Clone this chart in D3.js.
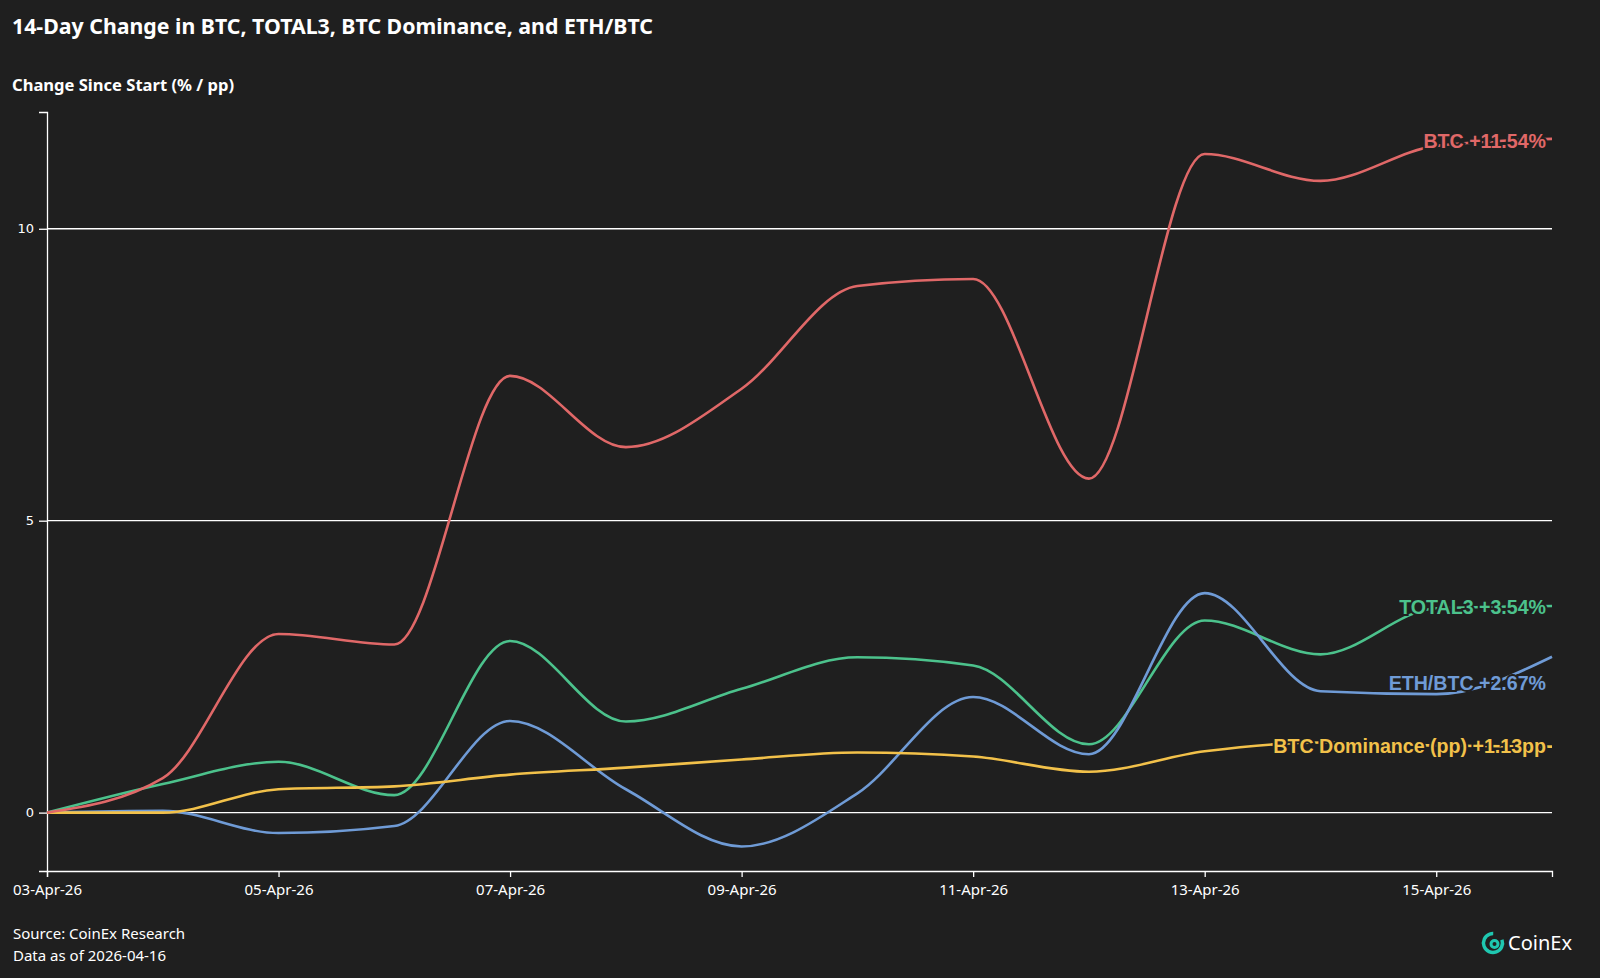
<!DOCTYPE html>
<html><head><meta charset="utf-8">
<script src="https://cdn.jsdelivr.net/npm/d3@7"></script>
<style>
html,body{margin:0;padding:0;background:#1f1f1f;}
svg{display:block;}
</style></head>
<body>
<svg id="chart" width="1600" height="978"></svg>
<script>
const dates = ["2026-04-03","2026-04-04","2026-04-05","2026-04-06","2026-04-07","2026-04-08","2026-04-09","2026-04-10","2026-04-11","2026-04-12","2026-04-13","2026-04-14","2026-04-15","2026-04-16"];
const btc = [0, 0.59, 3.06, 2.88, 7.48, 6.26, 7.26, 9.02, 9.14, 5.72, 11.28, 10.82, 11.42, 11.54];
const total3 = [0, 0.49, 0.87, 0.30, 2.94, 1.56, 2.12, 2.66, 2.52, 1.17, 3.29, 2.71, 3.50, 3.54];
const ethbtc = [0, 0.03, -0.35, -0.23, 1.57, 0.40, -0.58, 0.33, 1.98, 1.00, 3.76, 2.08, 2.03, 2.67];
const btcDom = [0, 0.0, 0.40, 0.45, 0.65, 0.77, 0.91, 1.03, 0.96, 0.70, 1.05, 1.20, 1.15, 1.13];
const seriesNames = ["BTC", "TOTAL3", "ETH/BTC", "BTC Dominance (pp)"];
const seriesLabels = ["BTC +11.54%", "TOTAL3 +3.54%", "ETH/BTC +2.67%", "BTC Dominance (pp) +1.13pp"];
const seriesColors = ["#e06868", "#4cc28c", "#6f9bd6", "#f2c14a"];
const yTicks = [0, 5, 10];
const xTickDates = ["2026-04-03","2026-04-05","2026-04-07","2026-04-09","2026-04-11","2026-04-13","2026-04-15"];
const titleText = "14-Day Change in BTC, TOTAL3, BTC Dominance, and ETH/BTC";
const subtitleText = "Change Since Start (% / pp)";
const sourceText = "Source: CoinEx Research";
const asOfText = "Data as of 2026-04-16";

const parse = d3.timeParse("%Y-%m-%d");
const allValues = [btc, total3, ethbtc, btcDom];
const series = seriesNames.map((n, i) => ({
  name: n, label: seriesLabels[i], color: seriesColors[i],
  values: dates.map((d, j) => ({date: parse(d), v: allValues[i][j]}))
}));

const svg = d3.select("#chart");
const W = 1600, H = 978;
svg.append("rect").attr("width", W).attr("height", H).attr("fill", "#1f1f1f");

const m = {left: 47, right: 48, top: 112, bottom: 107};
const x = d3.scaleTime().domain([parse(dates[0]), parse(dates[dates.length-1])]).range([m.left, W - m.right]);
const y = d3.scaleLinear().domain([-1, 12]).range([H - m.bottom, m.top]);

const textFont = "'Noto Sans', sans-serif";

// title
svg.append("text").attr("x", 12).attr("y", 34)
  .attr("fill", "#ffffff").attr("font-family", textFont).attr("font-weight", 700)
  .attr("font-size", 21).attr("textLength", 641).attr("lengthAdjust", "spacingAndGlyphs")
  .text(titleText);
svg.append("text").attr("x", 12).attr("y", 91)
  .attr("fill", "#ffffff").attr("font-family", textFont).attr("font-weight", 700)
  .attr("font-size", 16).attr("textLength", 222).attr("lengthAdjust", "spacingAndGlyphs")
  .text(subtitleText);

// grid lines
const gridG = svg.append("g");
gridG.selectAll("line").data(yTicks).join("line")
  .attr("x1", m.left).attr("x2", W - m.right)
  .attr("y1", d => y(d)).attr("y2", d => y(d))
  .attr("stroke", "#ffffff").attr("stroke-width", 1.3);

// y axis
const yAxis = svg.append("g").attr("transform", `translate(${m.left},0)`)
  .call(d3.axisLeft(y).tickValues(yTicks).tickSize(8).tickPadding(5));
yAxis.select(".domain").attr("stroke", "#ffffff").attr("stroke-width", 1.3);
yAxis.selectAll(".tick line").attr("stroke", "#ffffff").attr("stroke-width", 1.3);
yAxis.selectAll(".tick text").attr("fill", "#ffffff").attr("font-family", "'DejaVu Sans', sans-serif").attr("font-size", 13);

// x axis
const xAxis = svg.append("g").attr("transform", `translate(0,${H - m.bottom})`)
  .call(d3.axisBottom(x).tickValues(xTickDates.map(parse)).tickFormat(d3.timeFormat("%d-%b-%y")).tickSize(6).tickPadding(7));
xAxis.select(".domain").attr("stroke", "#ffffff").attr("stroke-width", 1.3);
xAxis.selectAll(".tick line").attr("stroke", "#ffffff").attr("stroke-width", 1.3);
xAxis.selectAll(".tick text").attr("fill", "#ffffff").attr("font-family", textFont).attr("font-size", 15);

// lines
const line = d3.line().x(d => x(d.date)).y(d => y(d.v)).curve(d3.curveMonotoneX);
const order = [1, 2, 3, 0];
svg.append("g").selectAll("path").data(order.map(i => series[i])).join("path")
  .attr("d", d => line(d.values))
  .attr("fill", "none").attr("stroke", d => d.color).attr("stroke-width", 2.6);

// end labels
const labelDy = {"BTC": 9, "TOTAL3": 8, "ETH/BTC": 33, "BTC Dominance (pp)": 6};
svg.append("g").selectAll("text").data(series).join("text")
  .attr("x", W - m.right - 6)
  .attr("y", d => y(d.values[d.values.length-1].v) + labelDy[d.name])
  .attr("text-anchor", "end")
  .attr("fill", d => d.color)
  .attr("stroke", "#1f1f1f").attr("stroke-width", 4).attr("paint-order", "stroke")
  .attr("font-family", "'Liberation Sans', Arial, sans-serif").attr("font-weight", 700)
  .attr("font-size", 19.6)
  .text(d => d.label);

// footer
svg.append("text").attr("x", 13).attr("y", 939).attr("fill", "#ffffff")
  .attr("font-family", textFont).attr("font-size", 15).text(sourceText);
svg.append("text").attr("x", 13).attr("y", 961).attr("fill", "#ffffff")
  .attr("font-family", textFont).attr("font-size", 15).text(asOfText);

// logo
const logo = svg.append("g").attr("transform", "translate(1493,943)");
logo.append("circle").attr("r", 9.5).attr("fill", "none").attr("stroke", "#1fc7b0").attr("stroke-width", 3.5)
  .attr("stroke-dasharray", "48 12").attr("transform", "rotate(-20)");
logo.append("circle").attr("r", 3.5).attr("cx", 1.5).attr("cy", 1).attr("fill", "none").attr("stroke", "#1fc7b0").attr("stroke-width", 3);
svg.append("text").attr("x", 1508).attr("y", 950).attr("fill", "#ffffff")
  .attr("font-family", textFont).attr("font-size", 20).text("CoinEx");
</script>
</body></html>
